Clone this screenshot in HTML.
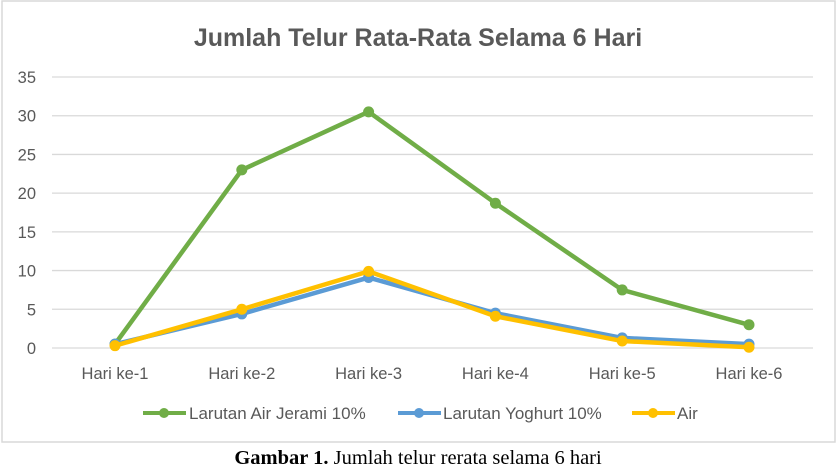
<!DOCTYPE html>
<html><head><meta charset="utf-8"><style>
html,body{margin:0;padding:0;background:#fff;}
svg{display:block;}
</style></head><body>
<svg width="837" height="465" xmlns="http://www.w3.org/2000/svg">
<rect x="2" y="1" width="833" height="441" fill="#fff" stroke="#d9d9d9" stroke-width="1.5"/>
<text x="418" y="46" text-anchor="middle" font-family="Liberation Sans, sans-serif" font-size="25" font-weight="bold" fill="#595959">Jumlah Telur Rata-Rata Selama 6 Hari</text>
<g id="grid"></g><g id="yt"></g><g id="xt"></g><g id="series"></g>
<g font-family="Liberation Sans, sans-serif" font-size="17" fill="#595959">
<g><line x1="143" y1="413" x2="186" y2="413" stroke="#70ad47" stroke-width="4"/><circle cx="164" cy="413" r="5" fill="#70ad47"/><text x="189" y="419">Larutan Air Jerami 10%</text></g>
<g><line x1="398" y1="413" x2="441" y2="413" stroke="#5b9bd5" stroke-width="4"/><circle cx="419" cy="413" r="5" fill="#5b9bd5"/><text x="443" y="419">Larutan Yoghurt 10%</text></g>
<g><line x1="632" y1="413" x2="675" y2="413" stroke="#ffc000" stroke-width="4"/><circle cx="653" cy="413" r="5" fill="#ffc000"/><text x="677" y="419">Air</text></g>
</g>
<text x="418" y="464" text-anchor="middle" font-family="Liberation Serif, serif" font-size="20.5" fill="#000"><tspan font-weight="bold">Gambar 1.</tspan> Jumlah telur rerata selama 6 hari</text>
</svg>
<script>
const categories=["Hari ke-1","Hari ke-2","Hari ke-3","Hari ke-4","Hari ke-5","Hari ke-6"];
const jerami=[0.5,23,30.5,18.7,7.5,3];
const yoghurt=[0.5,4.4,9.1,4.5,1.3,0.5];
const air=[0.3,5,9.9,4.1,0.9,0.1];
const yTicks=[0,5,10,15,20,25,30,35];
const NS="http://www.w3.org/2000/svg";
const x0=115,dx=126.8,y0=348,yMax=35,yTop=77;
const xs=i=>x0+i*dx;
const ys=v=>y0-(v/yMax)*(y0-yTop);
function mk(t,a,p){const e=document.createElementNS(NS,t);for(const k in a)e.setAttribute(k,a[k]);p.appendChild(e);return e;}
const grid=document.getElementById('grid'),yt=document.getElementById('yt'),xt=document.getElementById('xt'),ser=document.getElementById('series');
yTicks.forEach(v=>{
 const l=mk('line',{x1:52,x2:813,y1:ys(v),y2:ys(v),stroke:'#d9d9d9','stroke-width':1.3},grid);
 
 
 const t=mk('text',{x:36,y:ys(v)+6,'text-anchor':'end','font-family':'Liberation Sans, sans-serif','font-size':16.5,fill:'#595959'},yt);
 t.textContent=v;
 
 
});
categories.forEach((c,i)=>{
 const t=mk('text',{x:xs(i),y:379,'text-anchor':'middle','font-family':'Liberation Sans, sans-serif','font-size':16.5,fill:'#595959'},xt);
 t.textContent=c;
 
 
});
[[jerami,'#70ad47','jerami'],[yoghurt,'#5b9bd5','yoghurt'],[air,'#ffc000','air']].forEach(([d,col,n])=>{
 const g=mk('g',{},ser);
 
 
 const p=mk('polyline',{points:d.map((v,i)=>xs(i)+','+ys(v)).join(' '),fill:'none',stroke:col,'stroke-width':4.5,'stroke-linejoin':'round'},g);
 
 
 d.forEach((v,i)=>{
  const c=mk('circle',{cx:xs(i),cy:ys(v),r:5.5,fill:col},g);
  
  
 });
});
</script>
</body></html>
